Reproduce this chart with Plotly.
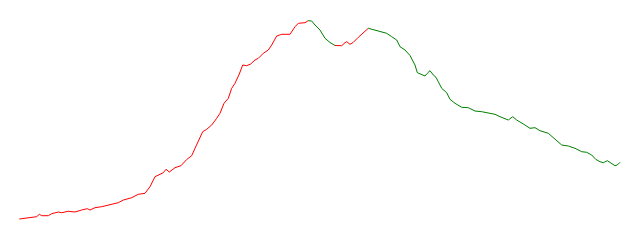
import plotly.graph_objects as go

days = [19.3, 30, 36.7, 39.3, 41.7, 48.3, 51.7, 58.3, 61.7, 68.3, 75, 81.7, 87.3, 90, 95, 101.7,
        110, 118.3, 123.3, 131.7, 138.3, 145, 150, 155, 160, 163.3, 166, 169.3, 175, 181, 186.7,
        191.7, 195, 200, 202.7, 206.7, 211.7, 216.7, 220, 224, 228.3, 231.7, 235, 239.3, 242.7,
        246.7, 250.7, 255, 258.3, 263.3, 268.3, 271.7, 276.7, 281.7, 290, 295, 298.3, 305, 308.3,
        311.7, 315, 320, 325, 330, 335, 341.7, 345, 346.7, 350, 353.3, 358.3, 363.3, 368.3,
        373.3, 380, 386.7, 391.7, 396.7, 400, 405, 410, 415, 417.3, 421.7, 425, 427.3, 430,
        433.3, 436, 438.3, 441.7, 446.7, 450, 455, 461.7, 468.3, 475, 481.7, 488.3, 495, 500,
        508.3, 512.7, 516.7, 523.3, 530, 535, 540, 548.3, 555, 561.7, 568.3, 575, 581.7, 586.7,
        591.7, 595.7, 600, 603.3, 607.3, 610.7, 615, 617.3, 620]

values = [21, 22.3, 23.3, 25.7, 24.3, 24.3, 26.3, 28, 27.3, 28.7, 28, 30, 31.3, 30, 32.3, 33.3,
          35, 37.3, 40, 42.3, 45.7, 46.7, 53.3, 63.3, 65.7, 67.3, 70.7, 68, 72.3, 74.3, 80.5,
          84.3, 91.7, 101.5, 108.3, 110.7, 115, 121.7, 126.7, 136.7, 141.7, 151.7, 156.7, 166, 175,
          174.3, 176, 180, 181.7, 186.7, 190, 195, 204, 205.7, 205.7, 213.3, 216.7, 217.3, 219.3,
          219, 215, 210, 201.7, 197.5, 194.5, 194.3, 197.3, 198.3, 195.7, 197.7, 202.7, 207.7, 211.7,
          210.3, 209, 206.7, 203.3, 200, 193.3, 190, 184.5, 175, 167.3, 165.7, 164, 166.7, 169.3,
          165, 162.7, 158.3, 151.7, 147.3, 140.7, 136.7, 132.7, 132.3, 129, 128.3, 126.7, 125.7, 123.3,
          120, 123.3, 120, 116, 111.7, 112.3, 109.3, 106.7, 100.7, 95, 94, 91.7, 88.3, 87.7,
          85, 80.7, 78.3, 77.3, 79.3, 76.7, 74.3, 75, 77.7]

turning_days = [308.3, 335, 368.3]
segment_colors = ["red", "green", "red", "green"]

fig = go.Figure()
bounds = [days[0]] + turning_days + [days[-1]]
for i, col in enumerate(segment_colors):
    lo, hi = bounds[i], bounds[i + 1]
    xs = [d for d in days if lo <= d <= hi]
    ys = [v for d, v in zip(days, values) if lo <= d <= hi]
    fig.add_trace(go.Scatter(x=xs, y=ys, mode="lines",
                             line=dict(color=col, width=1), showlegend=False,
                             hoverinfo="skip"))

fig.update_layout(
    width=640, height=240,
    margin=dict(l=0, r=0, t=0, b=0),
    paper_bgcolor="white", plot_bgcolor="white",
    xaxis=dict(range=[0, 640], visible=False),
    yaxis=dict(range=[0, 240], visible=False),
)
fig.write_html("out.html")
